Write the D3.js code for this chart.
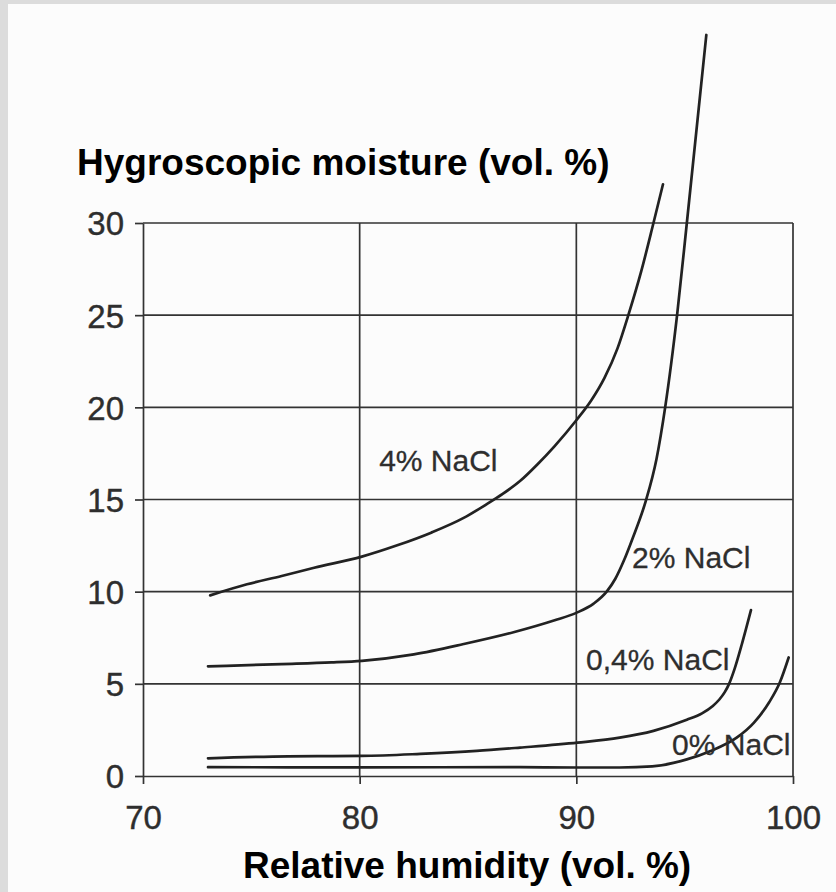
<!DOCTYPE html>
<html>
<head>
<meta charset="utf-8">
<script src="https://cdn.jsdelivr.net/npm/d3@7"></script>
<style>
  html, body { margin: 0; padding: 0; background: #dcdcdc; }
  svg { display: block; }
</style>
</head>
<body>
<script>
// ---- data ----
const humidityTicks = [70, 80, 90, 100];
const moistureTicks = [0, 5, 10, 15, 20, 25, 30];

const series4 = [
  [73.1, 9.8], [74.8, 10.4], [76.4, 10.85], [77.9, 11.3], [80.1, 11.9], [81.7, 12.5],
  [83.3, 13.2], [84.8, 14.0], [85.8, 14.7], [86.6, 15.3], [87.4, 16.0], [88.2, 16.9],
  [89.0, 17.9], [90.0, 19.3], [90.7, 20.4], [91.3, 21.6], [91.9, 23.2], [92.4, 25.0],
  [93.0, 27.4], [93.56, 30.0], [94.0, 32.1]
];
const series2 = [
  [73.0, 5.95], [76.4, 6.07], [78.7, 6.16], [80.1, 6.25], [82.5, 6.6], [84.8, 7.16],
  [87.1, 7.8], [89.0, 8.45], [90.0, 8.85], [90.8, 9.35], [91.4, 10.0], [91.8, 10.7],
  [92.2, 11.7], [92.6, 12.9], [93.2, 14.9], [93.7, 17.2], [94.1, 20.0], [94.65, 25.0],
  [95.1, 30.0], [96.0, 40.2]
];
const series04 = [
  [73.0, 0.96], [76.7, 1.07], [80.1, 1.09], [82.8, 1.2], [85.4, 1.36], [87.4, 1.54],
  [90.06, 1.81], [92.0, 2.08], [93.56, 2.45], [95.1, 3.05], [95.8, 3.4], [96.3, 3.8],
  [96.6, 4.15], [96.85, 4.55], [97.05, 5.0], [97.3, 5.8], [97.65, 7.2], [98.06, 9.0]
];
const series0 = [
  [73.0, 0.48], [80.0, 0.47], [87.4, 0.48], [90.0, 0.46], [92.0, 0.46], [93.5, 0.52],
  [95.1, 0.9], [96.2, 1.36], [97.4, 2.08], [98.2, 2.9], [98.9, 4.0], [99.4, 5.1], [99.8, 6.43]
];
const seriesList = [series4, series2, series04, series0];

const labelTexts = ["4% NaCl", "2% NaCl", "0,4% NaCl", "0% NaCl"];
const labelX = [80.9, 92.57, 90.45, 94.42];
const labelY = [16.55, 11.29, 5.75, 1.14];

const yTitle = "Hygroscopic moisture (vol. %)";
const xTitle = "Relative humidity (vol. %)";

// ---- drawing ----
const W = 836, H = 892;
const FONT = "'Liberation Sans', Arial, Helvetica, sans-serif";
const svg = d3.select("body").append("svg").attr("width", W).attr("height", H);

svg.append("rect").attr("x", 8).attr("y", 4).attr("width", W - 8).attr("height", H - 4)
  .attr("fill", "#fcfcfc");

const x = d3.scaleLinear().domain([70, 100]).range([143, 793]);
const y = d3.scaleLinear().domain([0, 30]).range([776, 223]);

const gridColor = "#333";

// horizontal grid lines
svg.append("g").selectAll("line")
  .data(moistureTicks.filter(d => d > 0))
  .join("line")
  .attr("x1", x(70)).attr("x2", x(100))
  .attr("y1", d => y(d)).attr("y2", d => y(d))
  .attr("stroke", gridColor).attr("stroke-width", 1.7);

// vertical grid lines
svg.append("g").selectAll("line")
  .data(humidityTicks.filter(d => d > 70))
  .join("line")
  .attr("x1", d => x(d)).attr("x2", d => x(d))
  .attr("y1", y(30)).attr("y2", y(0))
  .attr("stroke", gridColor).attr("stroke-width", 1.7);

// axes
const yAxis = d3.axisLeft(y).tickValues(moistureTicks).tickSize(8).tickSizeOuter(0).tickPadding(11);
const xAxis = d3.axisBottom(x).tickValues(humidityTicks).tickSize(8).tickSizeOuter(0).tickPadding(22);

const gy = svg.append("g").attr("transform", `translate(${x(70)},0)`).call(yAxis);
const gx = svg.append("g").attr("transform", `translate(0,${y(0)})`).call(xAxis);

[gx, gy].forEach(g => {
  g.select(".domain").attr("stroke", gridColor).attr("stroke-width", 1.7);
  g.selectAll(".tick line").attr("stroke", gridColor).attr("stroke-width", 1.7);
  g.selectAll(".tick text")
    .attr("fill", "#2e2e2e")
    .attr("stroke", "#2e2e2e")
    .attr("stroke-width", 0.4)
    .style("font-family", FONT)
    .style("font-size", "33px");
});
gy.selectAll(".tick text").attr("dy", "0.36em");

// curves
const line = d3.line()
  .x(d => x(d[0]))
  .y(d => y(d[1]))
  .curve(d3.curveMonotoneX);

svg.append("g").selectAll("path")
  .data(seriesList)
  .join("path")
  .attr("d", line)
  .attr("fill", "none")
  .attr("stroke", "#222")
  .attr("stroke-width", 2.7)
  .attr("stroke-linecap", "round")
  .attr("stroke-linejoin", "round");

// curve labels
svg.append("g").selectAll("text")
  .data(labelTexts)
  .join("text")
  .attr("x", (d, i) => x(labelX[i]))
  .attr("y", (d, i) => y(labelY[i]))
  .attr("fill", "#2e2e2e")
  .attr("stroke", "#2e2e2e")
  .attr("stroke-width", 0.3)
  .style("font-family", FONT)
  .style("font-size", "30px")
  .text(d => d);

// axis titles
svg.append("text")
  .attr("x", 77).attr("y", 175)
  .attr("fill", "#000")
  .style("font-family", FONT)
  .style("font-weight", "bold")
  .style("font-size", "37px")
  .text(yTitle);

svg.append("text")
  .attr("x", 243).attr("y", 878)
  .attr("fill", "#000")
  .style("font-family", FONT)
  .style("font-weight", "bold")
  .style("font-size", "37px")
  .text(xTitle);
</script>
</body>
</html>
